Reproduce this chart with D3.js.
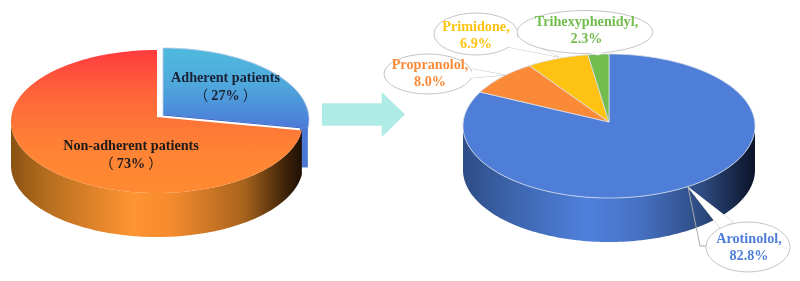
<!doctype html>
<head>
  <meta charset="utf-8">
  <script src="https://d3js.org/d3.v7.min.js"></script>
  <style>
    html, body { margin: 0; background: #fff; }
    svg { display: block; filter: blur(0.35px); }
    text { font-family: "Liberation Serif", "Noto Sans CJK SC", serif; font-weight: bold; font-size: 14.2px; text-anchor: middle; }
    tspan.paren { font-weight: normal; }
  </style>
</head>
<body>
<div id="viz"></div>
<script>

var adherenceNames = ['Adherent patients', 'Non-adherent patients']
var adherenceValues = [27, 73]
var adherenceLabels = ['27%', '73%']

var drugNames = ['Arotinolol', 'Propranolol', 'Primidone', 'Trihexyphenidyl']
var drugValues = [82.8, 8.0, 6.9, 2.3]
var drugLabels = ['82.8%', '8.0%', '6.9%', '2.3%']
var drugColors = ['#4f7ed8', '#fb8a38', '#fec312', '#72bd4d']

var svg = d3.select('#viz').append('svg')
  .attr('width', 800)
  .attr('height', 281)

var defs = svg.append('defs')

function gradient(id, x2, y2, stops) {
  var g = defs.append('linearGradient').attr('id', id)
    .attr('x1', 0).attr('y1', 0).attr('x2', x2).attr('y2', y2)
  stops.forEach(function(s) {
    g.append('stop').attr('offset', s[0]).attr('stop-color', s[1])
  })
}

gradient('orangeTop', 0, 1, [[0, '#ff3a3e'], [0.35, '#fe6a3a'], [0.7, '#ff8334'], [1, '#ff8a32']])
gradient('blueTop', 0, 1, [[0, '#4fbadd'], [0.45, '#4fa8dc'], [1, '#4b7ad8']])
gradient('orangeSide', 1, 0, [[0, '#8a5213'], [0.12, '#b56d1e'], [0.42, '#ff9433'], [0.55, '#f58b2e'], [0.8, '#a8641c'], [0.95, '#3a2008'], [1, '#1e1005']])
gradient('blueSide', 1, 0, [[0, '#2e4c86'], [0.15, '#3a62a8'], [0.42, '#5080dc'], [0.6, '#4672c4'], [0.82, '#2d4a80'], [0.95, '#142240'], [1, '#0b1428']])

// pie with a tilted rim, the apex sits a bit above the middle of the ellipse
function rimPoint(p, a) {
  return [p.cx + p.rx * Math.sin(a), p.cy - p.ry * Math.cos(a)]
}

var line = d3.line()

function slicePath(p, d) {
  var n = Math.ceil((d.endAngle - d.startAngle) * 40)
  var pts = d3.range(n + 1).map(function(i) {
    return rimPoint(p, d.startAngle + (d.endAngle - d.startAngle) * i / n)
  })
  return line([[p.cx, p.apexY]].concat(pts)) + 'Z'
}

function wallPath(p, a0, a1) {
  var n = Math.max(2, Math.ceil((a1 - a0) * 40))
  var pts = d3.range(n + 1).map(function(i) {
    return rimPoint(p, a0 + (a1 - a0) * i / n)
  })
  var low = pts.slice().reverse().map(function(q) { return [q[0], q[1] + p.depth] })
  return line(pts.concat(low)) + 'Z'
}

var pie = d3.pie().sort(null).value(function(d) { return d })

// left pie
var leftPie = { cx: 157, cy: 121.5, rx: 146, ry: 71.5, apexY: 117, depth: 44 }
var leftArcs = pie(adherenceValues)
var explodeX = 6, explodeY = -2

// sliver of the pulled out slice, seen past the cut of the orange wall
var cut = rimPoint(leftPie, leftArcs[0].endAngle)
svg.append('path')
  .attr('d', line([
    [cut[0] - 2, cut[1] - 3], [cut[0] + explodeX, cut[1] - 3],
    [cut[0] + explodeX, cut[1] + leftPie.depth - 7], [cut[0] - 2, cut[1] + leftPie.depth - 7]
  ]) + 'Z')
  .style('fill', '#4a78d4')

var blueG = svg.append('g').attr('transform', 'translate(' + explodeX + ',' + explodeY + ')')
blueG.append('path')
  .attr('d', slicePath(leftPie, leftArcs[0]))
  .style('fill', 'url(#blueTop)')
  .style('stroke', '#b9c8e4')
  .style('stroke-width', 0.8)
blueG.append('path')
  .attr('d', line([[leftPie.cx, leftPie.apexY], cut]))
  .style('stroke', '#3f66c4')
  .style('stroke-width', 1)

svg.append('path')
  .attr('d', wallPath(leftPie, leftArcs[1].startAngle, 3 * Math.PI / 2))
  .style('fill', 'url(#orangeSide)')
svg.append('path')
  .attr('d', slicePath(leftPie, leftArcs[1]))
  .style('fill', 'url(#orangeTop)')

function pieLabel(name, value, x, y, color) {
  svg.append('text').attr('x', x).attr('y', y).style('fill', color).text(name)
  var t = svg.append('text').attr('x', x).attr('y', y + 17.5).style('fill', color)
  t.append('tspan').attr('class', 'paren').text('（')
  t.append('tspan').attr('dx', 3).text(value)
  t.append('tspan').attr('class', 'paren').attr('dx', 3).text('）')
}
pieLabel(adherenceNames[0], adherenceLabels[0], 225.5, 82, '#1a2236')
pieLabel(adherenceNames[1], adherenceLabels[1], 131, 150, '#1f1a1a')

// arrow between the two pies
var arrowX = d3.scaleLinear().domain([0, 1]).range([322, 405])
var arrowY = d3.scaleLinear().domain([-1, 1]).range([92, 137])
svg.append('path')
  .attr('d', line([
    [arrowX(0), arrowY(-0.5)], [arrowX(0.72), arrowY(-0.5)], [arrowX(0.72), arrowY(-1)],
    [arrowX(1), arrowY(0)],
    [arrowX(0.72), arrowY(1)], [arrowX(0.72), arrowY(0.5)], [arrowX(0), arrowY(0.5)]
  ]) + 'Z')
  .style('fill', '#aeeae6')

// right pie
var rightPie = { cx: 609, cy: 126, rx: 146, ry: 72, apexY: 122, depth: 44 }
var drugArcs = pie(drugValues)

svg.append('path')
  .attr('d', wallPath(rightPie, Math.PI / 2, 3 * Math.PI / 2))
  .style('fill', 'url(#blueSide)')

svg.selectAll('path.slice')
  .data(drugArcs)
  .enter()
  .append('path')
  .attr('class', 'slice')
  .attr('d', function(d) { return slicePath(rightPie, d) })
  .style('fill', function(d, i) { return drugColors[i] })
  .style('stroke', '#d8dee8')
  .style('stroke-width', 0.8)

// callouts
var callouts = [
  { cx: 748, cy: 247, rx: 42, ry: 25, tip: [688, 187], base: [[733, 222], [720, 228]], leader: [[688, 187], [700, 246], [706, 246]], tx: 0, textX: 749, textY: 243 },
  { cx: 428, cy: 74, rx: 44, ry: 20, tip: [505, 75], base: [[472, 69], [470, 78]], tx: 1, textX: 430, textY: 69 },
  { cx: 476, cy: 34, rx: 42, ry: 21, tip: [559, 57], base: [[516, 36], [508, 47]], tx: 2, textX: 476, textY: 31 },
  { cx: 585, cy: 32, rx: 68, ry: 21.5, tip: [598, 55], base: [[588, 53], [606, 52]], tx: 3, textX: 586.5, textY: 26 }
]

callouts.forEach(function(c) {
  var g = svg.append('g')
  if (c.leader) {
    g.append('path').attr('d', line(c.leader))
      .style('fill', 'none').style('stroke', '#a9a9a9').style('stroke-width', 1)
  }
  g.append('path').attr('d', line([c.base[0], c.tip, c.base[1]]) + 'Z')
    .style('fill', '#fff').style('stroke', '#c4c4c4').style('stroke-width', 1)
  g.append('ellipse').attr('cx', c.cx).attr('cy', c.cy).attr('rx', c.rx).attr('ry', c.ry)
    .style('fill', '#fff').style('stroke', '#c4c4c4').style('stroke-width', 1)
  // hide the seam where the tail meets the ellipse
  g.append('path').attr('d', line([c.base[0], c.tip, c.base[1]]) + 'Z')
    .style('fill', '#fff')
  g.append('text').attr('x', c.textX).attr('y', c.textY)
    .style('fill', drugColors[c.tx]).text(drugNames[c.tx] + ',')
  g.append('text').attr('x', c.textX).attr('y', c.textY + 16.5)
    .style('fill', drugColors[c.tx]).text(drugLabels[c.tx])
})

</script>
</body>
